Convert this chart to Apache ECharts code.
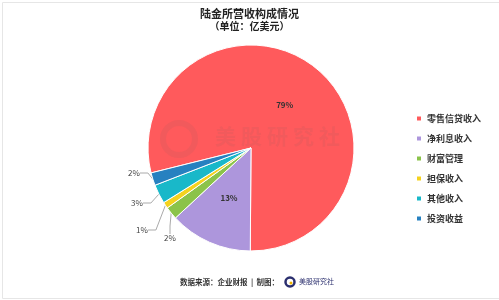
<!DOCTYPE html>
<html><head><meta charset="utf-8">
<script src="https://cdn.jsdelivr.net/npm/echarts@6/dist/echarts.min.js"></script>
<style>html,body{margin:0;padding:0;background:#fff}#c{width:499px;height:300px}</style>
</head><body><div id="c"></div>
<script>
const categories = ['零售信贷收入','净利息收入','财富管理','担保收入','其他收入','投资收益'];
const values = [79, 13, 2, 1, 3, 2];
const colors = ['#ff5a5c','#ad96dc','#8bc34a','#f4d21e','#19b8c9','#2781c0'];
const insideFlags = [true, true, false, false, false, false];

const chart = echarts.init(document.getElementById('c'));
const FONT = '"Noto Sans CJK SC", sans-serif';
const WM = 'rgba(150,90,90,0.13)';
const wmChars = '美股研究社'.split('').map((ch, i) => ({
  type: 'text', z: 100, x: 215 + i * 26, y: 126,
  style: {text: ch, font: 'bold 21px "Noto Sans CJK SC"', fill: WM}
}));
// outside label anchor points (label layout only)
const outerLabelPos = {2: [170, 238], 3: [142, 230], 4: [137, 203], 5: [134, 173]};
chart.setOption({
  backgroundColor: '#fff',
  textStyle: {fontFamily: FONT},
  title: {
    text: '陆金所营收构成情况',
    subtext: '（单位：亿美元）',
    left: 'center', top: 3, itemGap: 2,
    textStyle: {fontSize: 11, fontWeight: 'bold', color: '#222', fontFamily: FONT},
    subtextStyle: {fontSize: 10, fontWeight: 'bold', color: '#222', fontFamily: FONT}
  },
  legend: {
    orient: 'vertical', left: 410, top: 109, itemWidth: 6, itemHeight: 6, itemGap: 11,
    icon: 'rect',
    textStyle: {fontSize: 9, fontWeight: 'bold', color: '#333', fontFamily: FONT},
    data: categories
  },
  graphic: [
    {type: 'rect', left: 0, top: 0, shape: {width: 498, height: 296}, style: {fill: 'none', stroke: '#e6e6e6', lineWidth: 1}, z: 0},
    {type: 'circle', z: 100, shape: {cx: 179, cy: 139, r: 16}, style: {fill: 'none', stroke: WM, lineWidth: 6}},
    ...wmChars,
    {type: 'text', x: 279, y: 278, style: {text: '数据来源：企业财报\u00a0\u00a0|\u00a0\u00a0制图：', align: 'right', font: 'bold 7.5px "Noto Sans CJK SC"', fill: '#333'}},
    {type: 'circle', shape: {cx: 290, cy: 282, r: 4.5}, style: {fill: 'none', stroke: '#2b2f6e', lineWidth: 2.5}},
    {type: 'circle', shape: {cx: 291, cy: 283, r: 1.5}, style: {fill: '#f0b400'}},
    {type: 'text', x: 299, y: 278, style: {text: '美股研究社', font: '7px "Noto Sans CJK SC"', fill: '#2b2f6e'}}
  ],
  series: [{
    type: 'pie',
    center: [251, 148],
    radius: [0, 103],
    startAngle: 194,
    clockwise: true,
    itemStyle: {borderColor: '#fff', borderWidth: 1},
    label: {fontSize: 8, color: '#444', formatter: '{d}%', fontFamily: FONT},
    labelLine: {length: 12, length2: 8, lineStyle: {color: '#aaa'}},
    labelLayout: function (p) {
      const pos = outerLabelPos[p.dataIndex];
      if (!pos) return {};
      return {x: pos[0], y: pos[1], align: 'center', verticalAlign: 'middle'};
    },
    data: categories.map((n, i) => ({
      name: n, value: values[i],
      itemStyle: {color: colors[i]},
      label: insideFlags[i] ? {position: 'inner', color: '#333', fontWeight: 'bold'} : {position: 'outside'},
      labelLine: {show: !insideFlags[i]}
    }))
  }]
});
</script></body></html>
